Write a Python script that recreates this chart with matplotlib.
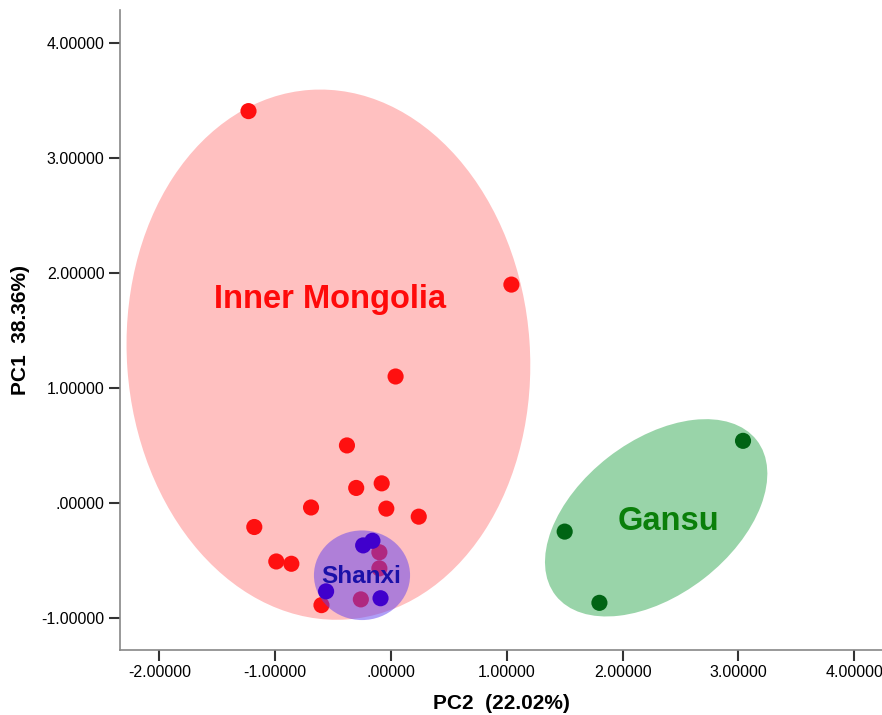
import matplotlib
matplotlib.use("Agg")
import matplotlib.pyplot as plt
from matplotlib.patches import Ellipse
from matplotlib.ticker import FuncFormatter

# scores PCA (PC2 en x, PC1 en y)
im_x = [-1.23, 1.04, 0.04, -0.38, -0.30, -0.08, -0.04, 0.24, -0.69, -1.18, -0.99, -0.86, -0.60,
        -0.26, -0.10, -0.10]
im_y = [3.41, 1.90, 1.10, 0.50, 0.13, 0.17, -0.05, -0.12, -0.04, -0.21, -0.51, -0.53, -0.89,
        -0.84, -0.43, -0.57]
sx_x = [-0.24, -0.16, -0.56, -0.09]
sx_y = [-0.37, -0.33, -0.77, -0.83]
gs_x = [3.04, 1.50, 1.80]
gs_y = [0.54, -0.25, -0.87]

plt.rcParams['font.family'] = ['Liberation Sans', 'DejaVu Sans']

fig = plt.figure(figsize=(8.82, 7.15), dpi=100)
ax = fig.add_axes([0.136, 0.091, 0.864, 0.895])

# ellipses de confiance
ax.add_patch(Ellipse((-0.54, 1.29), 3.48, 4.62, angle=4, facecolor="#FFC0C0", edgecolor="none", zorder=1))
ax.add_patch(Ellipse((2.29, -0.13), 2.2, 1.34, angle=38, facecolor="#99D4A9", edgecolor="none", zorder=1))

ax.scatter(im_x, im_y, s=135, color="#FF1010", edgecolors="none", zorder=2)
ax.add_patch(Ellipse((-0.25, -0.63), 0.83, 0.78, facecolor="#6140F0", alpha=0.5, edgecolor="none", zorder=3))
ax.scatter(sx_x, sx_y, s=135, color="#4000CC", edgecolors="none", zorder=4)
ax.scatter(gs_x, gs_y, s=135, color="#006414", edgecolors="none", zorder=4)

ax.text(-0.53, 1.77, "Inner Mongolia", color="#FF0A0A", fontsize=23.5, fontweight="bold",
        ha="center", va="center", zorder=5)
ax.text(2.40, -0.16, "Gansu", color="#0A7F0A", fontsize=23.5, fontweight="bold",
        ha="center", va="center", zorder=5)
ax.text(-0.26, -0.64, "Shanxi", color="#1A10A8", fontsize=17.5, fontweight="bold",
        ha="center", va="center", zorder=5)

ax.set_xlim(-2.34, 4.24)
ax.set_ylim(-1.28, 4.29)
ax.set_xticks([-2, -1, 0, 1, 2, 3, 4])
ax.set_yticks([-1, 0, 1, 2, 3, 4])

def spss_fmt(v, pos):
    s = f"{v:.5f}"
    return s.replace("0.", ".", 1) if s.startswith("0.") else s

ax.xaxis.set_major_formatter(FuncFormatter(spss_fmt))
ax.yaxis.set_major_formatter(FuncFormatter(spss_fmt))
ax.tick_params(direction="out", length=8, width=1.5, labelsize=11.5, color="#333333", pad=3)

ax.spines['top'].set_visible(False)
ax.spines['right'].set_visible(False)
for sp in ("left", "bottom"):
    ax.spines[sp].set_color("#888888")
    ax.spines[sp].set_linewidth(1.2)

ax.set_xlabel("PC2  (22.02%)", fontsize=15, fontweight="bold", labelpad=10)
ax.set_ylabel("PC1  38.36%)", fontsize=15, fontweight="bold", labelpad=8)

fig.savefig("out.png", dpi=100)
